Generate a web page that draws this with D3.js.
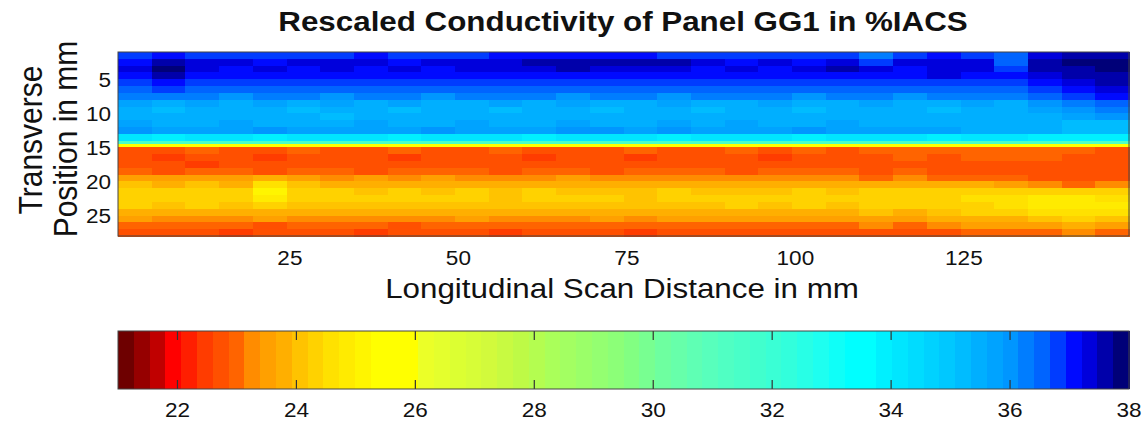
<!DOCTYPE html>
<html>
<head>
<meta charset="utf-8">
<script src="https://cdn.jsdelivr.net/npm/d3@7"></script>
<style>
  body { margin: 0; background: #fff; }
  text { font-family: "Liberation Sans", Arial, sans-serif; fill: #111; }
</style>
</head>
<body>
<svg width="1144" height="422"></svg>
<script>
// scan block centres (mm) and transverse strip edges (mm)
const scanCenters = [2,7,12,17,22,27,32,37,42,47,52,57,62,67,72,77,82,87,92,97,102,107,112,117,122,127,132,137,142,147];
const transverseEdges = [1,2,3,4,5,6,7,8,9,10,11,12,13,14,14.5,15,16,17,18,19,20,21,22,23,24,25,26,27,28];

// conductivity in %IACS, one row per strip
const conductivity = [
  [36.8,37.2,36.9,36.8,36.9,36.8,36.9,37.0,36.9,36.8,36.9,37.0,37.1,37.2,37.1,37.0,36.9,36.8,36.9,36.8,36.9,36.7,36.4,36.8,37.0,36.9,36.5,37.3,37.6,37.7],
  [37.2,37.7,37.4,37.3,37.2,37.3,37.4,37.3,37.2,37.3,37.4,37.3,37.5,37.6,37.5,37.6,37.5,37.3,37.2,37.3,37.2,37.4,36.9,37.3,37.4,37.3,36.6,37.6,37.8,37.8],
  [37.3,37.8,37.4,37.2,37.3,37.2,37.3,37.2,37.3,37.2,37.3,37.4,37.4,37.5,37.4,37.3,37.4,37.2,37.3,37.2,37.3,37.5,37.4,37.2,37.3,37.4,36.8,37.5,37.7,37.8],
  [37.1,37.6,37.2,37.0,37.1,37.2,37.0,37.1,37.0,37.2,37.1,37.0,37.1,37.2,37.0,37.1,37.2,37.0,37.1,37.0,37.2,37.1,37.0,37.2,37.3,37.1,37.0,37.3,37.5,37.6],
  [36.8,37.0,36.8,36.7,36.8,36.7,36.8,36.7,36.8,36.8,36.7,36.7,36.8,36.7,36.7,36.8,36.7,36.7,36.8,36.8,36.7,36.7,36.8,36.7,36.8,36.7,36.7,37.0,37.3,37.5],
  [36.6,36.7,36.6,36.5,36.6,36.5,36.6,36.5,36.6,36.5,36.5,36.6,36.5,36.5,36.6,36.5,36.5,36.6,36.6,36.5,36.5,36.6,36.5,36.5,36.6,36.5,36.5,36.8,37.1,37.3],
  [36.2,36.3,36.2,36.1,36.3,36.2,36.1,36.2,36.3,36.1,36.2,36.3,36.2,36.1,36.2,36.3,36.1,36.2,36.3,36.2,36.1,36.2,36.3,36.1,36.2,36.3,36.2,36.5,36.8,37.0],
  [35.7,35.6,35.8,35.6,35.7,35.5,35.7,35.6,35.8,35.6,35.5,35.7,35.6,35.7,35.5,35.6,35.7,35.6,35.5,35.7,35.6,35.5,35.7,35.6,35.5,35.7,35.6,35.9,36.3,36.6],
  [35.5,35.3,35.6,35.4,35.5,35.3,35.4,35.5,35.3,35.5,35.4,35.3,35.5,35.4,35.3,35.5,35.4,35.3,35.4,35.5,35.3,35.4,35.5,35.4,35.3,35.4,35.5,35.7,36.0,36.3],
  [35.5,35.4,35.5,35.6,35.4,35.5,35.3,35.5,35.4,35.6,35.5,35.4,35.5,35.6,35.5,35.4,35.5,35.6,35.4,35.5,35.6,35.5,35.4,35.5,35.6,35.4,35.5,35.6,35.7,36.0],
  [35.7,35.6,35.5,35.7,35.6,35.5,35.6,35.7,35.5,35.6,35.7,35.6,35.5,35.7,35.6,35.5,35.8,35.6,35.7,35.6,35.5,35.7,35.6,35.5,35.6,35.5,35.5,35.4,35.3,35.3],
  [35.9,35.8,35.7,35.8,35.9,35.8,35.7,35.8,35.7,35.9,35.8,35.7,35.8,35.9,36.0,35.8,35.9,35.8,35.7,35.8,35.9,35.8,35.7,35.8,35.7,35.6,35.5,35.4,35.3,35.3],
  [34.1,34.0,34.2,34.1,34.0,34.1,34.2,34.1,34.0,34.1,34.2,34.1,34.0,34.1,34.2,34.1,34.0,34.1,34.2,34.1,34.0,34.1,34.1,34.2,34.0,34.1,34.1,34.0,33.9,33.9],
  [31.5,31.4,31.6,31.5,31.4,31.5,31.6,31.5,31.4,31.5,31.6,31.5,31.4,31.5,31.6,31.5,31.4,31.5,31.6,31.5,31.4,31.5,31.5,31.6,31.4,31.5,31.5,31.4,31.3,31.3],
  [25.8,25.7,25.9,25.8,25.7,25.8,25.9,25.8,25.7,25.8,25.9,25.8,25.7,25.8,25.9,25.8,25.7,25.8,25.9,25.8,25.7,25.8,25.8,25.9,25.7,25.8,25.8,25.7,25.6,25.6],
  [22.7,22.8,22.9,22.7,22.8,22.9,22.8,22.7,22.9,22.8,22.7,22.9,22.8,22.7,22.8,22.9,22.8,22.7,22.9,22.8,22.9,22.8,22.9,23.0,22.9,23.0,23.1,23.0,22.9,22.8],
  [22.6,22.4,22.7,22.8,22.5,22.8,22.6,22.7,22.5,22.8,22.6,22.7,22.5,22.6,22.7,22.5,22.6,22.8,22.7,22.5,22.6,22.8,22.7,22.9,22.8,22.9,23.0,22.9,22.8,22.8],
  [22.7,22.7,22.5,22.8,22.7,22.7,22.8,22.6,22.7,22.7,22.8,22.6,22.7,22.7,22.6,22.7,22.7,22.6,22.7,22.8,22.7,22.7,22.8,22.7,22.8,22.7,22.8,22.7,22.7,22.7],
  [22.9,22.8,22.9,23.0,22.8,22.9,23.0,22.8,22.9,23.0,22.9,22.8,22.9,23.0,22.8,22.9,23.0,22.9,22.8,22.9,23.0,22.9,22.8,22.9,22.8,22.8,22.7,22.6,22.6,22.7],
  [23.6,23.5,23.4,23.5,23.7,23.4,23.3,23.4,23.3,23.4,23.3,23.2,23.3,23.4,23.3,23.2,23.3,23.2,23.3,23.2,23.3,23.2,23.1,23.2,23.1,23.0,22.9,22.8,22.7,22.8],
  [24.0,23.9,24.0,23.9,24.6,24.0,23.9,23.8,23.9,23.8,23.9,23.8,23.9,23.8,23.7,23.8,23.9,23.8,23.7,23.8,23.9,23.8,23.7,23.8,23.7,23.8,23.6,23.2,23.1,23.3],
  [24.3,24.2,24.3,24.4,25.0,24.3,24.2,24.1,24.2,24.1,24.2,24.1,24.2,24.1,24.0,24.1,24.2,24.1,24.0,24.1,24.2,24.1,24.2,24.3,24.2,24.3,24.4,24.3,24.2,24.3],
  [24.4,24.3,24.4,24.3,24.9,24.3,24.2,24.3,24.2,24.3,24.2,24.1,24.2,24.3,24.2,24.1,24.2,24.3,24.2,24.3,24.2,24.3,24.4,24.3,24.4,24.5,24.7,24.8,24.8,24.7],
  [24.2,24.1,24.2,24.1,24.3,24.1,24.0,24.1,24.0,24.1,24.0,24.1,24.0,24.1,24.0,24.1,24.0,24.1,24.2,24.1,24.2,24.1,24.2,24.3,24.2,24.4,24.6,24.8,24.9,24.8],
  [23.8,23.7,23.8,23.7,23.8,23.7,23.8,23.7,23.8,23.7,23.8,23.7,23.8,23.7,23.8,23.7,23.8,23.9,23.8,23.9,23.8,23.9,24.0,23.9,24.1,24.2,24.4,24.6,24.7,24.6],
  [23.4,23.3,23.2,23.3,23.4,23.3,23.2,23.3,23.2,23.3,23.4,23.3,23.2,23.3,23.4,23.3,23.4,23.5,23.4,23.5,23.4,23.5,23.6,23.5,23.7,23.8,23.9,24.1,24.2,24.1],
  [23.0,22.9,23.0,22.9,22.8,22.9,23.0,22.9,22.8,22.9,23.0,22.9,23.0,23.1,23.0,22.9,23.0,23.1,23.0,23.1,23.0,23.1,23.2,23.1,23.3,23.4,23.5,23.6,23.7,23.6],
  [22.7,22.6,22.7,22.5,22.6,22.7,22.6,22.5,22.6,22.7,22.6,22.5,22.6,22.7,22.6,22.5,22.6,22.7,22.6,22.7,22.6,22.7,22.8,22.7,22.8,22.9,23.0,23.1,23.2,23.1]
];

const xTicks = [25, 50, 75, 100, 125];
const yTicks = [5, 10, 15, 20, 25];
const cbarTicks = [22, 24, 26, 28, 30, 32, 34, 36, 38];

// 64-step colormap, anchor colours
const cmapIdx = [0,1,2,3,4,5,6,7,8,9,10,11,12,13,14,15,16,18,19,21,23,25,27,29,31,32,34,36,38,40,42,44,46,47,48,50,52,54,56,57,58,59,60,61,62,63];
const cmapHex = ["#6e0000","#960000","#c00000","#ff0000","#ff1e00","#ff3c00","#ff5000","#ff6400","#ff8c00","#ffa000","#ffaf00","#ffc300","#ffd200","#ffe100","#ffeb00","#fff500","#ffff00","#ffff00","#ebff28","#dcff32","#d2fa3c","#befa46","#aaff5a","#9bff69","#8cff78","#82ff82","#6effa0","#5fffb4","#50ffc3","#41ffcd","#32ffdc","#1efff0","#00ffff","#00ffff","#00f0ff","#00dcff","#00c8ff","#00afff","#0096ff","#007dff","#0064ff","#003cff","#000aff","#0000dc","#0000aa","#000078"];

const cMin = 21, cMax = 38;
const stretch = 1.1;

const svg = d3.select('svg');

const x = d3.scaleLinear().domain([-0.5, 149.5]).range([118, 1129]);
const y = d3.scaleLinear().domain([1, 28]).range([52, 236]);

const cmapScale = d3.scaleLinear().domain(cmapIdx).range(cmapHex).interpolate(d3.interpolateRgb);
const palette = d3.range(64).map(i => cmapScale(i));
const color = d3.scaleQuantize().domain([cMin, cMax]).range(palette);

// heat map
const cells = [];
conductivity.forEach((row, r) => {
  row.forEach((v, c) => {
    cells.push({x0: scanCenters[c] - 2.5, x1: scanCenters[c] + 2.5,
                y0: transverseEdges[r], y1: transverseEdges[r + 1], v: v});
  });
});

svg.append('g')
  .attr('shape-rendering', 'crispEdges')
  .selectAll('rect')
  .data(cells)
  .enter()
  .append('rect')
  .attr('x', d => x(d.x0))
  .attr('y', d => y(d.y0))
  .attr('width', d => x(d.x1) - x(d.x0) + 0.6)
  .attr('height', d => y(d.y1) - y(d.y0) + 0.6)
  .attr('fill', d => color(d.v));

svg.append('rect')
  .attr('x', 118).attr('y', 52)
  .attr('width', 1129 - 118).attr('height', 236 - 52)
  .attr('fill', 'none').attr('stroke', '#444').attr('stroke-width', 1);

// axes labels
const txt = (sel, tx, ty, size, anchor, s, extra) => sel.append('text')
  .attr('transform', `translate(${tx},${ty}) scale(${stretch},1)` + (extra || ''))
  .attr('text-anchor', anchor)
  .style('font-size', size + 'px')
  .text(s);

svg.append('g').selectAll('text').data(xTicks).enter().append('text')
  .attr('transform', d => `translate(${x(d)},265) scale(${stretch},1)`)
  .attr('text-anchor', 'middle').style('font-size', '20.5px').text(d => d);

svg.append('g').selectAll('text').data(yTicks).enter().append('text')
  .attr('transform', d => `translate(111,${y(d) + 7.5}) scale(${stretch},1)`)
  .attr('text-anchor', 'end').style('font-size', '20.5px').text(d => d);

txt(svg, 623, 31, 28.5, 'middle', 'Rescaled Conductivity of Panel GG1 in %IACS').style('font-weight', 'bold');
txt(svg, 622, 298, 28.5, 'middle', 'Longitudinal Scan Distance in mm');
txt(svg, 42, 140, 30, 'middle', 'Transverse', ' rotate(-90)');
txt(svg, 77, 139, 30, 'middle', 'Position in mm', ' rotate(-90)');

// colour bar
const cx = d3.scaleLinear().domain([cMin, cMax]).range([118, 1129]);
const cbTop = 331, cbBot = 389;
const step = (cMax - cMin) / palette.length;

svg.append('g')
  .attr('shape-rendering', 'crispEdges')
  .selectAll('rect')
  .data(palette)
  .enter()
  .append('rect')
  .attr('x', (d, i) => cx(cMin + i * step))
  .attr('y', cbTop)
  .attr('width', (d, i) => cx(cMin + (i + 1) * step) - cx(cMin + i * step) + 0.6)
  .attr('height', cbBot - cbTop)
  .attr('fill', d => d);

const tk = svg.append('g').selectAll('g').data(cbarTicks.filter(t => t < cMax)).enter().append('g');
tk.append('line').attr('x1', d => cx(d)).attr('x2', d => cx(d))
  .attr('y1', cbTop).attr('y2', cbTop + 9).attr('stroke', '#333').attr('stroke-width', 1.2);
tk.append('line').attr('x1', d => cx(d)).attr('x2', d => cx(d))
  .attr('y1', cbBot - 9).attr('y2', cbBot).attr('stroke', '#333').attr('stroke-width', 1.2);

svg.append('rect')
  .attr('x', 118).attr('y', cbTop)
  .attr('width', 1129 - 118).attr('height', cbBot - cbTop)
  .attr('fill', 'none').attr('stroke', '#444').attr('stroke-width', 1);

svg.append('g').selectAll('text').data(cbarTicks).enter().append('text')
  .attr('transform', d => `translate(${cx(d)},417) scale(${stretch},1)`)
  .attr('text-anchor', 'middle').style('font-size', '20.5px').text(d => d);
</script>
</body>
</html>
